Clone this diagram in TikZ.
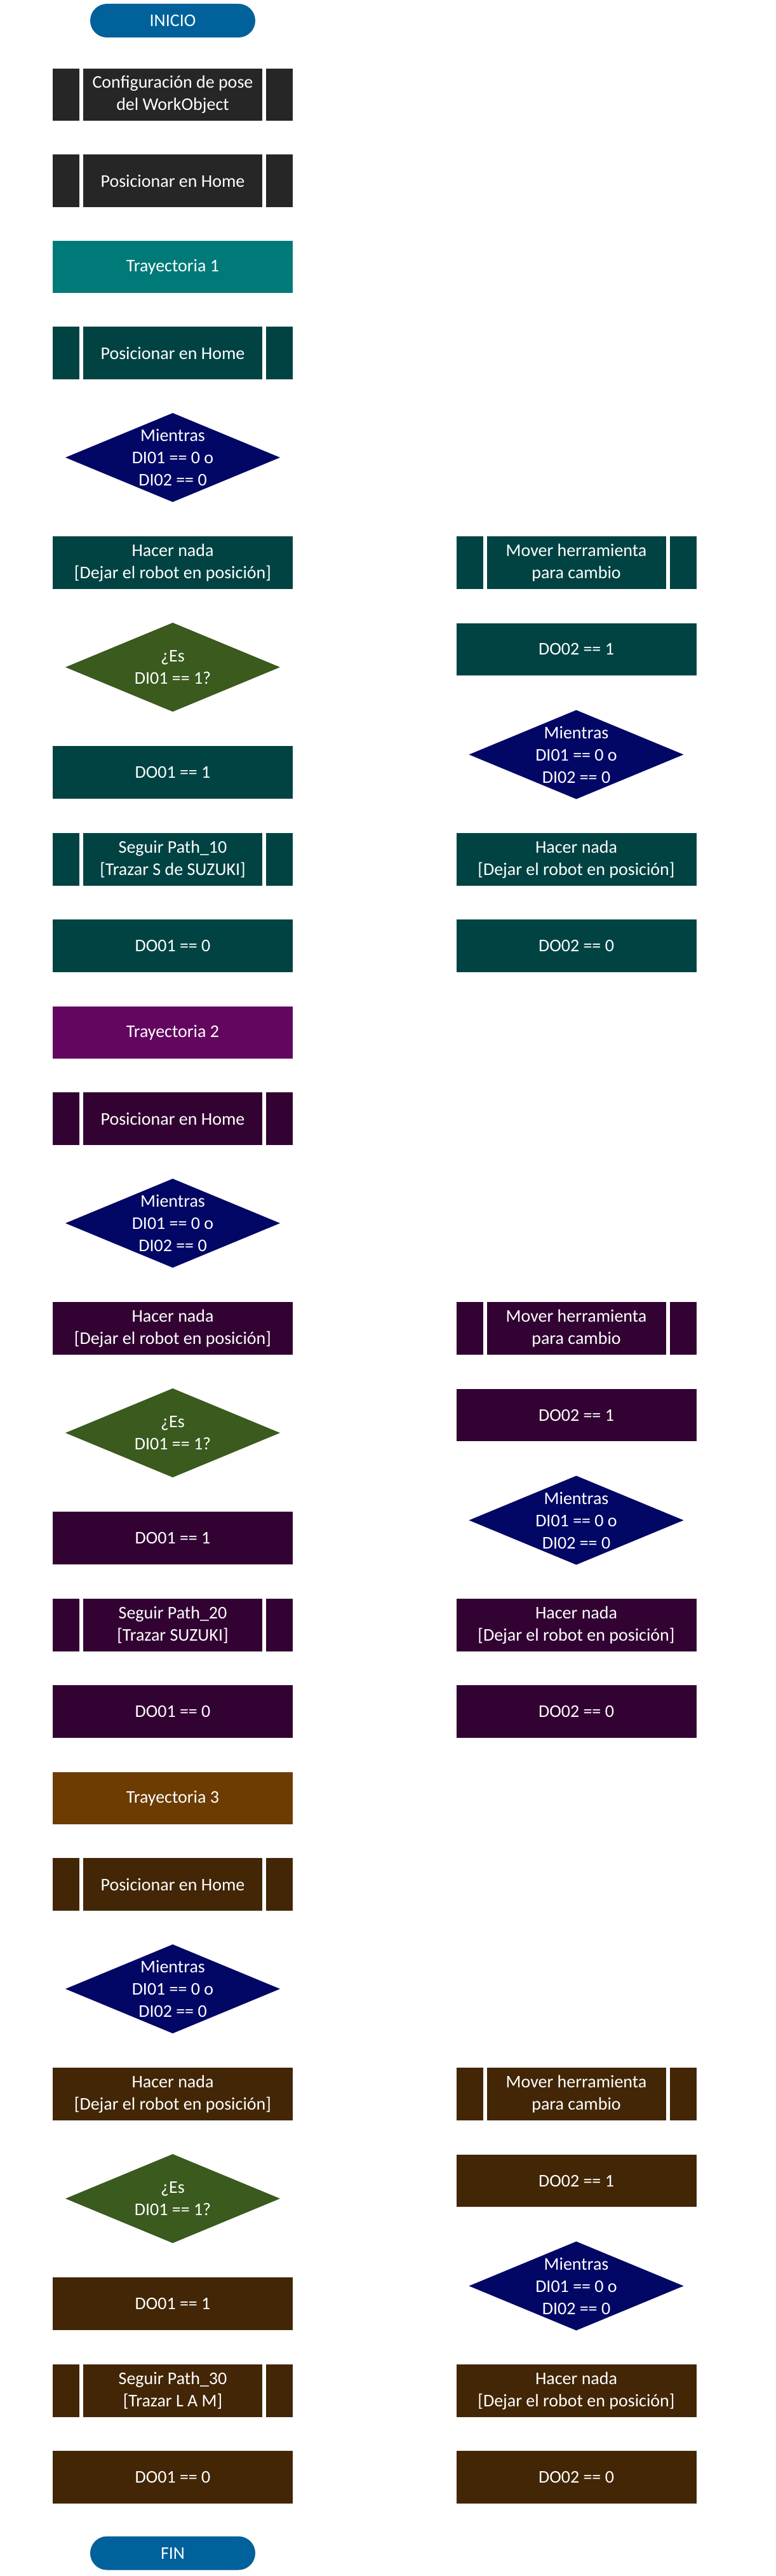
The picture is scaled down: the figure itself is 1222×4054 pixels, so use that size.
\documentclass[tikz,border=0pt]{standalone}
\usepackage{fontspec}
\setmainfont{Carlito}
\usepackage{tikz}
\definecolor{pillblue}{RGB}{0,97,155}
\definecolor{graybox}{RGB}{38,38,38}
\definecolor{teallight}{RGB}{0,122,120}
\definecolor{tealdark}{RGB}{1,67,67}
\definecolor{navy}{RGB}{2,7,102}
\definecolor{leaf}{RGB}{58,90,30}
\definecolor{plum}{RGB}{98,6,96}
\definecolor{plumdark}{RGB}{50,3,50}
\definecolor{umber}{RGB}{108,60,2}
\definecolor{umberdark}{RGB}{66,38,5}

\begin{document}
\begin{tikzpicture}[x={(1pt,0pt)}, y={(0pt,-1pt)},
  base/.style={font=\fontsize{28}{35}\selectfont, text=white, align=center, inner sep=0pt},
  pill/.style={base, fill=pillblue, rounded corners=26.5pt, minimum width=260pt, minimum height=53pt},
  proc/.style={base, fill=#1, minimum width=378pt, minimum height=82.5pt},
  subproc/.style={proc=#1, path picture={
      \fill[white] ([xshift=42pt]path picture bounding box.south west) rectangle ([xshift=48pt]path picture bounding box.north west);
      \fill[white] ([xshift=-48pt]path picture bounding box.south east) rectangle ([xshift=-42pt]path picture bounding box.north east);}},
  decision/.style={base, minimum width=338pt, minimum height=140pt, path picture={
      \fill[#1] (path picture bounding box.north) -- (path picture bounding box.east)
        -- (path picture bounding box.south) -- (path picture bounding box.west) -- cycle;}}]
\useasboundingbox (0,0) rectangle (1222,4054);
% inicio
\node[pill] (ini) at (272,32.5) {INICIO};
\node[subproc=graybox] (cfg) at (272,149) {Configuración de pose\\del WorkObject};
\node[subproc=graybox] (H0) at (272,284.5) {Posicionar en Home};
% Trayectoria 1
\node[proc=teallight] (T1) at (272,420) {Trayectoria 1};
\node[subproc=tealdark] (H1) at (272,555.5) {Posicionar en Home};
\node[decision=navy] (W1) at (272,720) {Mientras\\DI01 == 0 o\\DI02 == 0};
\node[proc=tealdark] (N1) at (272,885.5) {Hacer nada\\{[}Dejar el robot en posición{]}};
\node[decision=leaf] (E1) at (272,1050) {¿Es\\DI01 == 1?};
\node[proc=tealdark] (A1) at (272,1215.5) {DO01 == 1};
\node[subproc=tealdark] (S1) at (272,1352.5) {Seguir Path\_10\\{[}Trazar S de SUZUKI{]}};
\node[proc=tealdark] (B1) at (272,1488.5) {DO01 == 0};
\node[subproc=tealdark] (M1) at (907.5,885.5) {Mover herramienta\\para cambio};
\node[proc=tealdark] (P1) at (907.5,1022) {DO02 == 1};
\node[decision=navy] (V1) at (907.5,1187.5) {Mientras\\DI01 == 0 o\\DI02 == 0};
\node[proc=tealdark] (R1) at (907.5,1352.5) {Hacer nada\\{[}Dejar el robot en posición{]}};
\node[proc=tealdark] (C1) at (907.5,1488.5) {DO02 == 0};
% Trayectoria 2
\node[proc=plum] (T2) at (272,1625) {Trayectoria 2};
\node[subproc=plumdark] (H2) at (272,1760.5) {Posicionar en Home};
\node[decision=navy] (W2) at (272,1925) {Mientras\\DI01 == 0 o\\DI02 == 0};
\node[proc=plumdark] (N2) at (272,2090.5) {Hacer nada\\{[}Dejar el robot en posición{]}};
\node[decision=leaf] (E2) at (272,2255) {¿Es\\DI01 == 1?};
\node[proc=plumdark] (A2) at (272,2420.5) {DO01 == 1};
\node[subproc=plumdark] (S2) at (272,2557.5) {Seguir Path\_20\\{[}Trazar SUZUKI{]}};
\node[proc=plumdark] (B2) at (272,2693.5) {DO01 == 0};
\node[subproc=plumdark] (M2) at (907.5,2090.5) {Mover herramienta\\para cambio};
\node[proc=plumdark] (P2) at (907.5,2227) {DO02 == 1};
\node[decision=navy] (V2) at (907.5,2392.5) {Mientras\\DI01 == 0 o\\DI02 == 0};
\node[proc=plumdark] (R2) at (907.5,2557.5) {Hacer nada\\{[}Dejar el robot en posición{]}};
\node[proc=plumdark] (C2) at (907.5,2693.5) {DO02 == 0};
% Trayectoria 3
\node[proc=umber] (T3) at (272,2830) {Trayectoria 3};
\node[subproc=umberdark] (H3) at (272,2965.5) {Posicionar en Home};
\node[decision=navy] (W3) at (272,3130) {Mientras\\DI01 == 0 o\\DI02 == 0};
\node[proc=umberdark] (N3) at (272,3295.5) {Hacer nada\\{[}Dejar el robot en posición{]}};
\node[decision=leaf] (E3) at (272,3460) {¿Es\\DI01 == 1?};
\node[proc=umberdark] (A3) at (272,3625.5) {DO01 == 1};
\node[subproc=umberdark] (S3) at (272,3762.5) {Seguir Path\_30\\{[}Trazar L A M{]}};
\node[proc=umberdark] (B3) at (272,3898.5) {DO01 == 0};
\node[subproc=umberdark] (M3) at (907.5,3295.5) {Mover herramienta\\para cambio};
\node[proc=umberdark] (P3) at (907.5,3432) {DO02 == 1};
\node[decision=navy] (V3) at (907.5,3597.5) {Mientras\\DI01 == 0 o\\DI02 == 0};
\node[proc=umberdark] (R3) at (907.5,3762.5) {Hacer nada\\{[}Dejar el robot en posición{]}};
\node[proc=umberdark] (C3) at (907.5,3898.5) {DO02 == 0};
% fin
\node[pill] (fin) at (272,4018) {FIN};
\end{tikzpicture}
\end{document}
